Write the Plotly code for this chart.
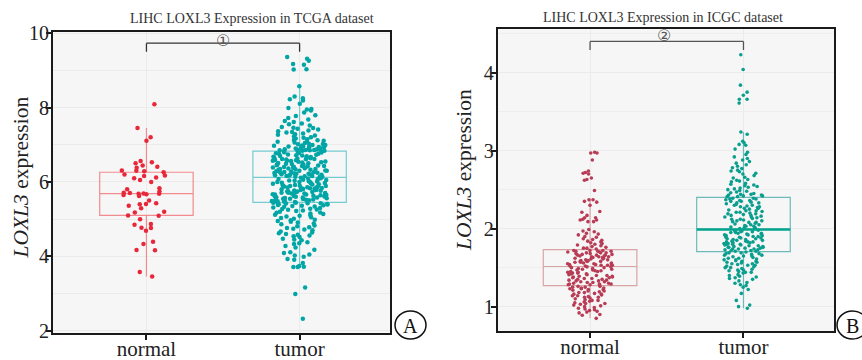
import plotly.graph_objects as go
import numpy as np

categories = ["normal", "tumor"]

tcga_normal = [8.09, 7.45, 7.20, 7.11, 6.53, 6.44, 6.41, 6.56, 6.50, 6.38, 6.30, 6.31, 6.29, 6.26,
               6.20, 6.17, 6.16, 6.10, 6.12, 6.00, 6.05, 5.74, 5.80, 5.83, 5.65, 5.62, 5.68, 5.70,
               5.69, 5.68, 5.67, 5.71, 5.50, 5.43, 5.41, 5.40, 5.36, 5.29, 5.20, 5.18, 5.09, 5.10,
               5.00, 4.87, 4.85, 4.76, 4.77, 4.69, 4.39, 4.33, 4.17, 4.16, 3.58, 3.46]

tcga_tumor = [
    # upper part
    9.36, 9.31, 9.26, 9.17, 9.15, 9.02, 9.03,
    8.57, 8.30, 8.25, 8.22, 8.19, 8.10,
    7.99, 7.96, 7.95, 7.92, 7.87, 7.79, 7.77, 7.72, 7.68, 7.64, 7.61, 7.57, 7.55, 7.52,
    7.48, 7.06, 7.33, 7.19, 7.41, 7.02, 7.27, 7.12, 7.45, 7.09, 7.36, 7.22, 7.01, 7.30,
    7.15, 7.43, 7.05, 7.25, 7.38, 7.11, 7.20, 7.03, 7.34, 7.17, 7.46, 7.08, 7.28, 7.13,
    6.91, 6.85, 6.97, 6.88, 6.94, 6.84, 6.99, 6.87, 6.92, 6.86, 6.96, 6.89, 6.93, 6.85,
    6.98, 6.90, 6.84, 6.95, 6.87, 6.92, 6.86, 6.99, 6.89, 6.94, 6.88,
    # between median and upper quartile
    6.47, 6.21, 6.78, 6.35, 6.62, 6.14, 6.55, 6.29, 6.71, 6.43,
    6.18, 6.66, 6.38, 6.80, 6.25, 6.52, 6.16, 6.74, 6.33, 6.59,
    6.45, 6.23, 6.69, 6.31, 6.57, 6.13, 6.82, 6.40, 6.27, 6.64,
    6.49, 6.19, 6.76, 6.36, 6.61, 6.24, 6.53, 6.42, 6.72, 6.15,
    6.58, 6.30, 6.67, 6.44, 6.20, 6.79, 6.34, 6.50, 6.26, 6.63,
    6.17, 6.70, 6.39, 6.56, 6.22, 6.81, 6.46, 6.28, 6.65, 6.37,
    6.54, 6.14, 6.73, 6.32, 6.60, 6.41, 6.19, 6.77, 6.48, 6.26,
    6.68, 6.35, 6.51, 6.22, 6.75, 6.43, 6.16, 6.62, 6.30, 6.57,
    # between lower quartile and median
    5.78, 5.52, 6.04, 5.66, 5.91, 5.47, 5.85, 5.60, 6.09, 5.73,
    5.55, 5.97, 5.69, 5.82, 5.49, 6.01, 5.63, 5.88, 5.76, 5.58,
    6.07, 5.71, 5.94, 5.51, 5.80, 5.65, 6.11, 5.86, 5.57, 5.99,
    5.74, 5.48, 5.90, 5.62, 6.03, 5.68, 5.83, 5.54, 5.96, 5.77,
    5.46, 6.06, 5.70, 5.89, 5.59, 5.81, 5.64, 6.00, 5.53, 5.93,
    5.75, 5.61, 6.10, 5.84, 5.50, 5.72, 5.98, 5.67, 5.87, 5.56,
    6.02, 5.79, 5.47, 5.92, 5.66, 6.08, 5.74, 5.58, 5.95, 5.69,
    5.83, 5.52, 6.05, 5.78, 5.62, 5.89, 5.55, 6.00, 5.71, 5.85,
    # lower part
    3.16, 2.99, 2.32,
    3.71, 3.72, 3.71, 3.74, 3.82, 3.91, 3.93, 3.99,
    4.02, 4.47, 4.11, 4.35, 4.05, 4.28, 4.43, 4.18, 4.38, 4.09, 4.33, 4.24, 4.45,
    4.52, 4.91, 4.64, 4.78, 4.56, 4.98, 4.70, 4.83, 4.60, 4.88, 4.74, 4.95, 4.67, 4.81,
    4.58, 4.93, 4.72, 4.86, 4.62, 4.97, 4.76, 4.54,
    5.12, 5.38, 5.03, 5.27, 5.44, 5.18, 5.33, 5.07, 5.41, 5.22, 5.30, 5.01, 5.36, 5.15,
    5.43, 5.25, 5.09, 5.39, 5.20, 5.31, 5.05, 5.42, 5.28, 5.14, 5.35, 5.10, 5.40, 5.23,
    5.34, 5.17, 5.44, 5.26, 5.37, 5.43,
]

icgc_normal = [
    2.97, 2.97, 2.98, 2.88, 2.72, 2.74, 2.70, 2.71, 2.65, 2.62, 2.63, 2.49,
    2.37, 2.35, 2.37, 2.34, 2.30, 2.22, 2.21, 2.14, 2.12, 2.11, 2.11, 2.17, 2.09, 2.14, 2.09,
    1.99, 1.96, 1.86, 1.84, 1.75, 1.78, 1.92, 1.81, 1.89, 1.76, 1.94, 1.83, 1.77, 1.90,
    1.79, 1.87, 1.74, 1.97, 1.80, 1.85, 1.75, 1.93, 1.82,
    1.58, 1.66, 1.53, 1.71, 1.61, 1.55, 1.69, 1.63, 1.52, 1.67, 1.59, 1.72, 1.56, 1.64,
    1.60, 1.70, 1.54, 1.68, 1.62, 1.57, 1.65, 1.72, 1.53, 1.69, 1.58, 1.63, 1.71, 1.55,
    1.66, 1.60, 1.52, 1.68, 1.57, 1.64, 1.70, 1.54, 1.61, 1.67, 1.59, 1.65, 1.56, 1.72,
    1.62, 1.53, 1.69, 1.58, 1.71, 1.64, 1.55, 1.66,
    1.32, 1.45, 1.29, 1.50, 1.38, 1.41, 1.28, 1.47, 1.35, 1.43, 1.30, 1.49, 1.37, 1.33,
    1.46, 1.40, 1.28, 1.44, 1.31, 1.51, 1.36, 1.42, 1.29, 1.48, 1.34, 1.39, 1.45, 1.30,
    1.50, 1.41, 1.33, 1.47, 1.38, 1.29, 1.44, 1.36, 1.49, 1.31, 1.43, 1.40, 1.34, 1.51,
    1.37, 1.28, 1.46, 1.32, 1.42, 1.39, 1.48, 1.35,
    1.05, 0.89, 1.18, 0.97, 1.23, 1.10, 0.85, 1.14, 1.01, 1.26, 0.94, 1.20, 1.07, 1.16,
    0.92, 1.24, 1.03, 1.12, 0.98, 1.21, 1.08, 1.25, 0.96, 1.17, 1.02, 1.13, 0.90, 1.22,
    1.06, 1.19, 0.99, 1.15, 1.09, 1.26, 0.95, 1.11, 1.04, 1.23, 1.00, 1.16, 1.25, 1.08,
    0.93, 1.20, 1.12, 1.24, 1.04, 1.18, 1.22, 1.14,
]

icgc_tumor = [
    3.71, 3.66, 3.75, 3.84, 4.04, 4.23, 3.61, 3.66,
    3.24, 3.21, 3.12, 3.10, 3.08, 3.07, 3.02, 2.98, 2.95, 2.92, 2.90, 2.88, 2.86, 2.84,
    2.82, 2.80, 2.78, 2.77, 2.75, 2.73, 2.71, 2.70, 2.68, 2.66, 2.65, 2.63, 2.61, 2.60,
    2.58, 2.57, 2.55, 2.54, 2.53, 2.51, 2.50, 2.49, 2.48, 2.47, 2.46, 2.45, 2.44, 2.44,
    2.43, 2.43, 2.42, 2.42, 2.41, 2.41, 2.52, 2.56, 2.62, 2.74,
    2.05, 2.31, 2.12, 2.24, 2.00, 2.37, 2.18, 2.09, 2.28, 2.15, 2.35, 2.02, 2.21, 2.33,
    2.07, 2.26, 2.13, 2.39, 2.19, 2.04, 2.30, 2.10, 2.23, 2.36, 2.16, 2.01, 2.27, 2.11,
    2.34, 2.20, 2.06, 2.38, 2.14, 2.25, 2.03, 2.32, 2.17, 2.08, 2.29, 2.22, 2.36, 2.01,
    2.19, 2.12, 2.33, 2.05, 2.26, 2.38, 2.10, 2.23, 2.15, 2.30, 2.03, 2.21, 2.35, 2.08,
    2.28, 2.17, 2.00, 2.39,
    1.72, 1.85, 1.76, 1.93, 1.80, 1.89, 1.74, 1.97, 1.83, 1.78, 1.91, 1.71, 1.87, 1.95,
    1.79, 1.84, 1.73, 1.90, 1.81, 1.96, 1.75, 1.88, 1.82, 1.94, 1.77, 1.86, 1.92, 1.72,
    1.98, 1.80, 1.85, 1.74, 1.90, 1.83, 1.76, 1.95, 1.79, 1.87, 1.73, 1.93, 1.82, 1.97,
    1.78, 1.89, 1.75, 1.91, 1.84, 1.71, 1.86, 1.96, 1.81, 1.77, 1.94, 1.88, 1.74, 1.92,
    1.80, 1.98, 1.83, 1.76,
    0.98, 1.02, 1.00, 1.17, 1.08, 1.25, 1.30, 1.28, 1.33, 1.22, 1.36, 1.41, 1.38, 1.45,
    1.47, 1.50, 1.43, 1.52, 1.55, 1.49, 1.58, 1.53, 1.61, 1.57, 1.63, 1.56, 1.66, 1.60,
    1.68, 1.62, 1.65, 1.69, 1.59, 1.67, 1.54, 1.70, 1.64, 1.46, 1.51, 1.40, 1.35, 1.48,
    1.44, 1.57, 1.62, 1.37, 1.55, 1.66, 1.31, 1.50, 1.60, 1.27, 1.44, 1.68, 1.53, 1.39,
    1.58, 1.65, 1.47, 1.69,
]

titles = ["LIHC LOXL3 Expression in TCGA dataset", "LIHC LOXL3 Expression in ICGC dataset"]
sig_labels = ["①", "②"]
panel_labels = ["A", "B"]
bracket_tcga = [9.50, 9.73]
bracket_icgc = [4.29, 4.40]

SERIF = "Liberation Serif"
BOX_W = 0.61

fig = go.Figure()


def add_box(vals, cat, xa, ya, pt_color, line_color, msize, jit, lw=1.2):
    fig.add_trace(go.Box(
        y=vals, x=[cat] * len(vals), xaxis=xa, yaxis=ya,
        boxpoints="all", jitter=jit, pointpos=0, width=BOX_W, whiskerwidth=0,
        fillcolor="rgba(0,0,0,0)", line=dict(color=line_color, width=lw),
        marker=dict(color=pt_color, size=msize, line=dict(width=0)),
        showlegend=False, hoverinfo="y"))


add_box(tcga_normal, categories[0], "x", "y", "#e8283a", "#f28a8e", 4.5, 0.7)
add_box(tcga_tumor, categories[1], "x", "y", "#00a5a6", "#74ccd2", 4.5, 0.6)
add_box(icgc_normal, categories[0], "x2", "y2", "#b83c55", "#d9a4a6", 3.6, 0.5)
add_box(icgc_tumor, categories[1], "x2", "y2", "#0a9e8e", "#6cbaba", 3.6, 0.42)

axis_common = dict(
    showline=True, linecolor="#1a1a1a", linewidth=2, mirror=True,
    ticks="outside", ticklen=5, tickwidth=1.5, tickcolor="#1a1a1a",
    zeroline=False, showgrid=True, gridcolor="#ebebeb", gridwidth=1, automargin=False,
)
xfont = dict(family=SERIF, size=21, color="#222")
yfont = dict(family=SERIF, size=20, color="#222")

fig.update_layout(
    width=862, height=360, margin=dict(l=0, r=0, t=0, b=0, autoexpand=False),
    paper_bgcolor="white", plot_bgcolor="#f6f6f6",
    xaxis=dict(axis_common, domain=[0.0615, 0.4524], range=[-0.61, 1.59], type="category",
               categoryorder="array", categoryarray=categories, anchor="y",
               tickfont=xfont, ticklabelstandoff=-9),
    yaxis=dict(axis_common, domain=[0.0758, 0.912], range=[1.946, 10.04], dtick=2, tick0=0,
               minor=dict(dtick=1, showgrid=True, gridcolor="#ebebeb"), anchor="x",
               tickfont=yfont, ticklabelstandoff=-7),
    xaxis2=dict(axis_common, domain=[0.5774, 0.9675], range=[-0.602, 1.59], type="category",
                categoryorder="array", categoryarray=categories, anchor="y2",
                tickfont=xfont, ticklabelstandoff=-9),
    yaxis2=dict(axis_common, domain=[0.0806, 0.9186], range=[0.688, 4.556], dtick=1, tick0=0,
                minor=dict(dtick=0.5, showgrid=True, gridcolor="#eeeeee"), anchor="x2",
                tickfont=yfont, ticklabelstandoff=-7),
)

# thicker median line for ICGC tumor (from data)
med_icgc_t = float(np.percentile(icgc_tumor, 50))
fig.add_shape(type="line", xref="x2", yref="y2", x0=1 - BOX_W / 2, x1=1 + BOX_W / 2,
              y0=med_icgc_t, y1=med_icgc_t, line=dict(color="#00a38c", width=2.6))

# significance brackets
for (xr, yr, b, col) in [("x", "y", bracket_tcga, "#333333"), ("x2", "y2", bracket_icgc, "#555555")]:
    lo, hi = b
    fig.add_shape(type="line", xref=xr, yref=yr, x0=0, x1=1, y0=hi, y1=hi, line=dict(color=col, width=1.3))
    fig.add_shape(type="line", xref=xr, yref=yr, x0=0, x1=0, y0=lo, y1=hi, line=dict(color=col, width=1.3))
    fig.add_shape(type="line", xref=xr, yref=yr, x0=1, x1=1, y0=lo, y1=hi, line=dict(color=col, width=1.3))

W, H = 862.0, 360.0
C = dict(xref="paper", yref="paper", xanchor="center", yanchor="middle", showarrow=False)
ann = []
ann.append(dict(C, text=titles[0], x=252 / W, y=1 - 18 / H, font=dict(family=SERIF, size=14, color="#333")))
ann.append(dict(C, text=titles[1], x=662.7 / W, y=1 - 17 / H, font=dict(family=SERIF, size=14, color="#333")))
for xp, yp in [(20, 177.5), (464, 170)]:
    ann.append(dict(C, text="<i>LOXL3</i> expression", x=xp / W, y=1 - yp / H, textangle=-90,
                    font=dict(family=SERIF, size=21.5, color="#222")))
ann.append(dict(C, text=sig_labels[0], x=222.7 / W, y=1 - 40 / H,
                font=dict(family="DejaVu Sans", size=16, color="#555")))
ann.append(dict(C, text=sig_labels[1], x=664 / W, y=1 - 36 / H,
                font=dict(family="DejaVu Sans", size=16, color="#555")))
for lab, cx in zip(panel_labels, [410.5, 852.5]):
    cy = 325
    fig.add_shape(type="circle", xref="paper", yref="paper",
                  x0=(cx - 15.5) / W, x1=(cx + 15.5) / W, y0=1 - (cy + 14) / H, y1=1 - (cy - 14) / H,
                  line=dict(color="#111", width=1.5))
    ann.append(dict(C, text=lab, x=cx / W, y=1 - (cy + 0.5) / H, font=dict(family=SERIF, size=20, color="#111")))

fig.update_layout(annotations=ann)
fig.write_html("out.html")
